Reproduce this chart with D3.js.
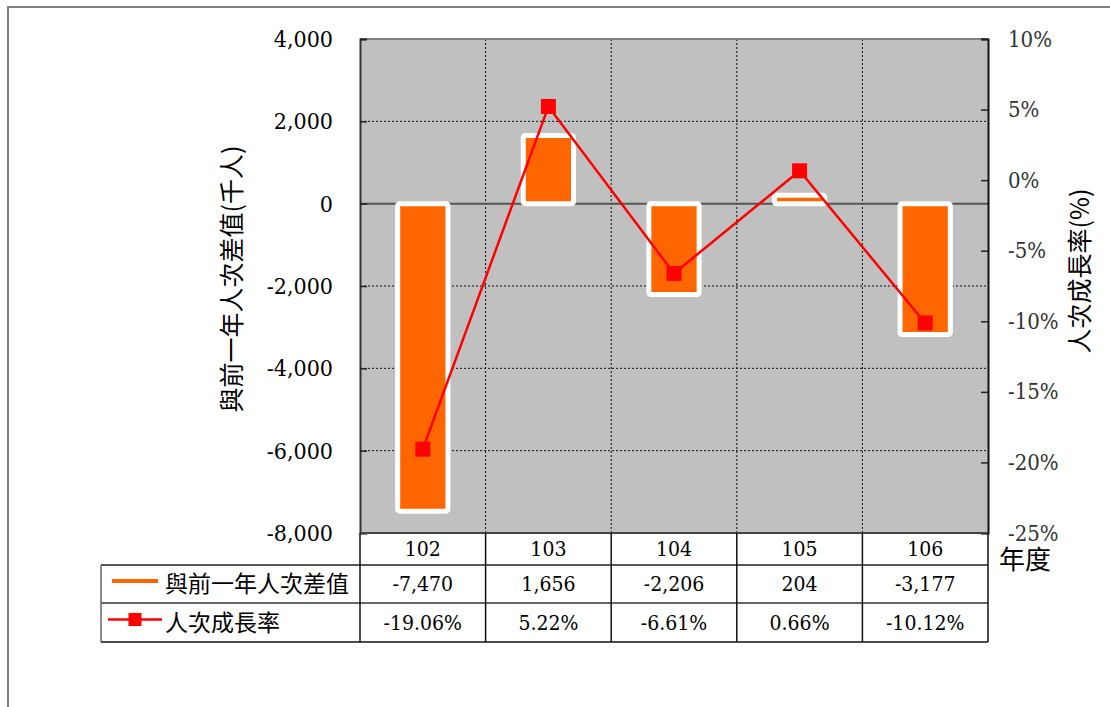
<!DOCTYPE html>
<html>
<head>
<meta charset="utf-8">
<script src="https://cdn.jsdelivr.net/npm/d3@7"></script>
<style>
body { margin: 0; background: #fff; }
</style>
</head>
<body>
<div id="chart"></div>
<script>
// data
var years = ["102", "103", "104", "105", "106"];
var diffValues = [-7470, 1656, -2206, 204, -3177];
var rateValues = [-19.06, 5.22, -6.61, 0.66, -10.12];
var leftTicks = [-8000, -6000, -4000, -2000, 0, 2000, 4000];
var rightTicks = [-25, -20, -15, -10, -5, 0, 5, 10];
var seriesNames = ["與前一年人次差值", "人次成長率"];
var leftTitle = "與前一年人次差值(千人)";
var rightTitle = "人次成長率(%)";
var xTitle = "年度";

var serif = "'DejaVu Serif Condensed', 'DejaVu Serif', serif";
var cjk = "'Noto Sans CJK TC', 'Noto Sans CJK SC', sans-serif";

var width = 1110, height = 707;
var plot = {left: 360, right: 988, top: 39, bottom: 533};

var comma = function(d) { return d3.format(",")(d).replace("\u2212", "-"); };

var svg = d3.select("#chart").append("svg")
    .attr("width", width)
    .attr("height", height);

// outer frame (top and left edges)
svg.append("line").attr("x1", 8).attr("x2", width).attr("y1", 7).attr("y2", 7)
    .attr("stroke", "#808080").attr("stroke-width", 2);
svg.append("line").attr("x1", 8).attr("x2", 8).attr("y1", 6).attr("y2", height)
    .attr("stroke", "#808080").attr("stroke-width", 2);

var x = d3.scaleBand().domain(years).range([plot.left, plot.right]);
var yLeft = d3.scaleLinear().domain([-8000, 4000]).range([plot.bottom, plot.top]);
var yRight = d3.scaleLinear().domain([-25, 10]).range([plot.bottom, plot.top]);

// plot background
svg.append("rect")
    .attr("x", plot.left).attr("y", plot.top)
    .attr("width", plot.right - plot.left).attr("height", plot.bottom - plot.top)
    .attr("fill", "#C0C0C0");

// horizontal grid
svg.append("g").selectAll("line")
    .data(leftTicks.filter(function(d) { return d != 0 && d != 4000 && d != -8000; }))
    .enter().append("line")
    .attr("x1", plot.left).attr("x2", plot.right)
    .attr("y1", function(d) { return yLeft(d); })
    .attr("y2", function(d) { return yLeft(d); })
    .attr("stroke", "#111").attr("stroke-width", 1).attr("stroke-dasharray", "2,2");

// vertical grid at category boundaries
svg.append("g").selectAll("line")
    .data(years.slice(1))
    .enter().append("line")
    .attr("x1", function(d) { return x(d); })
    .attr("x2", function(d) { return x(d); })
    .attr("y1", plot.top).attr("y2", plot.bottom)
    .attr("stroke", "#111").attr("stroke-width", 1).attr("stroke-dasharray", "2,2");

// top border
svg.append("line").attr("x1", plot.left).attr("x2", plot.right)
    .attr("y1", plot.top).attr("y2", plot.top)
    .attr("stroke", "#808080").attr("stroke-width", 2);

// zero line
svg.append("line").attr("x1", plot.left).attr("x2", plot.right)
    .attr("y1", yLeft(0)).attr("y2", yLeft(0))
    .attr("stroke", "#555").attr("stroke-width", 2);

// bars
var barW = x.bandwidth() * 0.4;
svg.append("g").selectAll("rect")
    .data(diffValues)
    .enter().append("rect")
    .attr("x", function(d, i) { return x(years[i]) + x.bandwidth() / 2 - barW / 2; })
    .attr("y", function(d) { return Math.min(yLeft(d), yLeft(0)); })
    .attr("width", barW)
    .attr("height", function(d) { return Math.abs(yLeft(d) - yLeft(0)); })
    .attr("rx", 2)
    .attr("fill", "#FF6600")
    .attr("stroke", "#fff")
    .attr("stroke-width", 5);

// left axis
var leftAxis = d3.axisLeft(yLeft).tickValues(leftTicks).tickSize(-7).tickPadding(27)
    .tickFormat(comma);
var gl = svg.append("g").attr("transform", "translate(" + plot.left + ",0)").call(leftAxis);
gl.attr("font-family", null).attr("font-size", null);
gl.select(".domain").attr("stroke", "#333").attr("stroke-width", 2);
gl.selectAll(".tick line").attr("stroke", "#222").attr("stroke-width", 1.5);
gl.selectAll("text").style("font-family", serif).style("font-size", "23px").attr("fill", "#000")
    .attr("dy", "0.32em");

// right axis
var rightAxis = d3.axisRight(yRight).tickValues(rightTicks).tickSize(-7).tickPadding(20)
    .tickFormat(function(d) { return d + "%"; });
var gr = svg.append("g").attr("transform", "translate(" + plot.right + ",0)").call(rightAxis);
gr.attr("font-family", null).attr("font-size", null);
gr.select(".domain").attr("stroke", "#111").attr("stroke-width", 2);
gr.selectAll(".tick line").attr("stroke", "#222").attr("stroke-width", 1.5);
gr.selectAll("text").style("font-family", serif).style("font-size", "22px").attr("fill", "#333")
    .attr("dy", "0.32em");

// growth rate line
var line = d3.line()
    .x(function(d, i) { return x(years[i]) + x.bandwidth() / 2; })
    .y(function(d) { return yRight(d); });
svg.append("path").datum(rateValues)
    .attr("d", line)
    .attr("fill", "none")
    .attr("stroke", "#FF0000")
    .attr("stroke-width", 2.5);

var mk = 15;
svg.append("g").selectAll("rect")
    .data(rateValues)
    .enter().append("rect")
    .attr("x", function(d, i) { return x(years[i]) + x.bandwidth() / 2 - mk / 2; })
    .attr("y", function(d) { return yRight(d) - mk / 2; })
    .attr("width", mk).attr("height", mk)
    .attr("fill", "#FF0000");

// plot bottom border
svg.append("line").attr("x1", plot.left).attr("x2", plot.right)
    .attr("y1", plot.bottom).attr("y2", plot.bottom)
    .attr("stroke", "#444").attr("stroke-width", 2);

// axis titles
svg.append("text")
    .attr("transform", "translate(241,279) rotate(-90)")
    .attr("text-anchor", "middle")
    .style("font-family", cjk)
    .style("font-size", "25px")
    .text(leftTitle);

svg.append("text")
    .attr("transform", "translate(1089,271) rotate(-90)")
    .attr("text-anchor", "middle")
    .style("font-family", cjk)
    .style("font-size", "25px")
    .text(rightTitle);

svg.append("text")
    .attr("x", 999).attr("y", 569)
    .style("font-family", cjk)
    .style("font-size", "26px")
    .text(xTitle);

// data table
var rowY = [533, 565, 603, 642];
var tableLeft = 101;
var tbl = svg.append("g");

// horizontal lines
tbl.append("line").attr("x1", tableLeft).attr("x2", plot.right)
    .attr("y1", rowY[1]).attr("y2", rowY[1]).attr("stroke", "#222").attr("stroke-width", 1.5);
tbl.append("line").attr("x1", tableLeft).attr("x2", plot.right)
    .attr("y1", rowY[2]).attr("y2", rowY[2]).attr("stroke", "#333").attr("stroke-width", 1.5);
tbl.append("line").attr("x1", tableLeft).attr("x2", plot.right)
    .attr("y1", rowY[3]).attr("y2", rowY[3]).attr("stroke", "#111").attr("stroke-width", 1.5);

// vertical lines
var xEdges = years.map(function(d) { return x(d); }).concat([plot.right]);
tbl.selectAll(".vline").data(xEdges)
    .enter().append("line")
    .attr("class", "vline")
    .attr("x1", function(d) { return d; }).attr("x2", function(d) { return d; })
    .attr("y1", rowY[0]).attr("y2", rowY[3])
    .attr("stroke", "#111").attr("stroke-width", 1.5);
tbl.append("line").attr("x1", tableLeft).attr("x2", tableLeft)
    .attr("y1", rowY[1]).attr("y2", rowY[3]).attr("stroke", "#666").attr("stroke-width", 1.5);

// header row
tbl.selectAll(".yr").data(years)
    .enter().append("text")
    .attr("x", function(d) { return x(d) + x.bandwidth() / 2; })
    .attr("y", (rowY[0] + rowY[1]) / 2)
    .attr("dy", "0.35em")
    .attr("text-anchor", "middle")
    .style("font-family", serif)
    .style("font-size", "21px")
    .text(function(d) { return d; });

tbl.selectAll(".dv").data(diffValues)
    .enter().append("text")
    .attr("x", function(d, i) { return x(years[i]) + x.bandwidth() / 2; })
    .attr("y", (rowY[1] + rowY[2]) / 2)
    .attr("dy", "0.35em")
    .attr("text-anchor", "middle")
    .style("font-family", serif)
    .style("font-size", "21px")
    .text(comma);

tbl.selectAll(".rv").data(rateValues)
    .enter().append("text")
    .attr("x", function(d, i) { return x(years[i]) + x.bandwidth() / 2; })
    .attr("y", (rowY[2] + rowY[3]) / 2)
    .attr("dy", "0.35em")
    .attr("text-anchor", "middle")
    .style("font-family", serif)
    .style("font-size", "21px")
    .text(function(d) { return d.toFixed(2) + "%"; });

// legend keys
var r1 = (rowY[1] + rowY[2]) / 2, r2 = (rowY[2] + rowY[3]) / 2;
tbl.append("line").attr("x1", 112).attr("x2", 158).attr("y1", r1 - 3).attr("y2", r1 - 3)
    .attr("stroke", "#FF6600").attr("stroke-width", 4);
tbl.append("line").attr("x1", 108).attr("x2", 162).attr("y1", r2 - 3).attr("y2", r2 - 3)
    .attr("stroke", "#FF0000").attr("stroke-width", 2.5);
tbl.append("rect").attr("x", 135 - 6.5).attr("y", r2 - 3 - 6.5).attr("width", 13).attr("height", 13)
    .attr("fill", "#FF0000");

tbl.selectAll(".lg").data(seriesNames)
    .enter().append("text")
    .attr("x", 165)
    .attr("y", function(d, i) { return i == 0 ? r1 : r2; })
    .attr("dy", "0.35em")
    .style("font-family", cjk)
    .style("font-size", "23px")
    .text(function(d) { return d; });
</script>
</body>
</html>
